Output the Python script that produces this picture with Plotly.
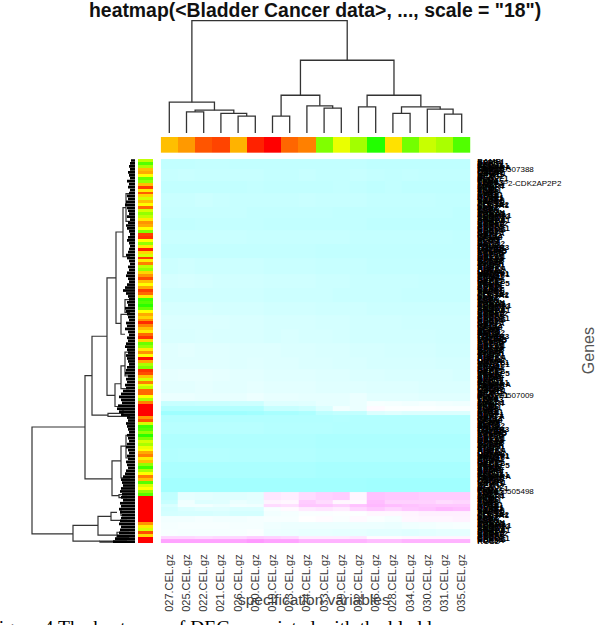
import plotly.graph_objects as go

W, H = 600, 625

samples = ["027.CEL.gz","025.CEL.gz","022.CEL.gz","021.CEL.gz","026.CEL.gz","020.CEL.gz","019.CEL.gz","023.CEL.gz","024.CEL.gz",
           "033.CEL.gz","029.CEL.gz","032.CEL.gz","036.CEL.gz","028.CEL.gz","034.CEL.gz","030.CEL.gz","031.CEL.gz","035.CEL.gz"]

# sample side colour (hue 0 = red, 60 = yellow, 120 = green)
sample_hue = [45,36,20,16,42,8,0,24,30,90,65,82,112,53,93,73,80,101]

# row band edges, top to bottom (row units)
row_edges = [0,10,22,34,48,60,72,86,100,116,130,144,158,172,186,200,212,224,236,244,250,255,259,266,278,292,306,322,336,344,349,352,356,361,367,374,381,384,388]

heat_rows = [
[-.24,-.24,-.23,-.23,-.24,-.24,-.24,-.24,-.24,-.24,-.24,-.24,-.25,-.25,-.25,-.25,-.25,-.25],
[-.22,-.21,-.22,-.22,-.22,-.22,-.23,-.23,-.22,-.23,-.23,-.22,-.23,-.24,-.23,-.24,-.24,-.24],
[-.24,-.24,-.24,-.24,-.24,-.23,-.24,-.24,-.24,-.24,-.23,-.24,-.25,-.24,-.25,-.25,-.25,-.25],
[-.21,-.21,-.20,-.21,-.22,-.22,-.22,-.22,-.21,-.22,-.22,-.22,-.23,-.23,-.23,-.23,-.24,-.24],
[-.22,-.22,-.22,-.22,-.22,-.23,-.23,-.23,-.23,-.23,-.24,-.24,-.24,-.24,-.24,-.24,-.24,-.25],
[-.24,-.24,-.23,-.23,-.23,-.23,-.24,-.24,-.24,-.24,-.24,-.24,-.25,-.25,-.25,-.25,-.25,-.25],
[-.21,-.21,-.21,-.21,-.21,-.22,-.22,-.22,-.22,-.22,-.22,-.23,-.23,-.23,-.23,-.23,-.23,-.24],
[-.23,-.23,-.23,-.23,-.23,-.23,-.23,-.23,-.23,-.24,-.24,-.24,-.24,-.24,-.24,-.24,-.24,-.24],
[-.20,-.19,-.20,-.20,-.20,-.20,-.21,-.21,-.21,-.22,-.22,-.22,-.23,-.23,-.23,-.23,-.23,-.23],
[-.17,-.16,-.17,-.18,-.18,-.18,-.19,-.19,-.19,-.20,-.20,-.21,-.21,-.21,-.21,-.22,-.22,-.22],
[-.19,-.19,-.19,-.19,-.19,-.19,-.20,-.20,-.20,-.20,-.21,-.21,-.21,-.21,-.22,-.22,-.22,-.22],
[-.16,-.16,-.16,-.17,-.17,-.17,-.18,-.18,-.18,-.19,-.19,-.19,-.20,-.20,-.20,-.20,-.20,-.20],
[-.14,-.14,-.14,-.14,-.15,-.15,-.16,-.16,-.16,-.17,-.17,-.18,-.18,-.18,-.19,-.19,-.19,-.19],
[-.15,-.15,-.14,-.15,-.15,-.15,-.16,-.15,-.16,-.16,-.17,-.18,-.18,-.18,-.18,-.18,-.19,-.19],
[-.12,-.11,-.12,-.12,-.13,-.13,-.13,-.14,-.14,-.15,-.15,-.16,-.16,-.17,-.17,-.17,-.18,-.18],
[-.12,-.12,-.12,-.12,-.13,-.12,-.13,-.13,-.14,-.14,-.15,-.15,-.16,-.16,-.16,-.16,-.17,-.17],
[-.10,-.09,-.09,-.10,-.11,-.11,-.12,-.12,-.12,-.13,-.13,-.14,-.14,-.15,-.15,-.15,-.15,-.16],
[-.11,-.11,-.10,-.11,-.11,-.10,-.11,-.11,-.11,-.12,-.12,-.12,-.13,-.13,-.13,-.14,-.14,-.14],
[-.08,-.08,-.09,-.09,-.09,-.07,-.09,-.09,-.10,-.10,-.10,-.08,-.11,-.11,-.11,-.12,-.12,-.12],
[-.22,-.22,-.21,-.21,-.20,-.20,-.13,-.13,-.12,-.10,-.10,-.08,-.03,-.04,-.05,-.04,-.05,-.06],
[-.30,-.30,-.30,-.30,-.30,-.30,-.22,-.22,-.20,-.14,-.05,-.08,.02,-.01,-.01,-.01,-.02,-.02],
[-.38,-.38,-.38,-.38,-.38,-.37,-.34,-.34,-.32,-.26,-.24,-.24,-.14,-.12,-.14,-.14,-.14,-.14],
[-.30,-.30,-.30,-.30,-.30,-.30,-.30,-.30,-.30,-.30,-.29,-.30,-.30,-.30,-.30,-.30,-.30,-.30],
[-.28,-.28,-.28,-.28,-.28,-.28,-.29,-.29,-.29,-.29,-.30,-.30,-.30,-.30,-.30,-.30,-.30,-.30],
[-.31,-.31,-.31,-.31,-.31,-.31,-.31,-.31,-.31,-.32,-.32,-.32,-.32,-.32,-.32,-.32,-.32,-.32],
[-.30,-.29,-.29,-.29,-.30,-.30,-.30,-.30,-.30,-.31,-.31,-.31,-.31,-.31,-.31,-.31,-.31,-.31],
[-.33,-.33,-.33,-.33,-.33,-.33,-.33,-.33,-.33,-.34,-.34,-.34,-.34,-.34,-.34,-.34,-.34,-.34],
[-.36,-.36,-.36,-.36,-.36,-.36,-.36,-.36,-.36,-.36,-.36,-.36,-.37,-.37,-.37,-.37,-.37,-.37],
[-.25,-.10,-.11,-.12,-.12,-.11,.10,.07,.14,.18,.20,.04,.24,.22,.22,.20,.20,.20],
[-.22,-.06,-.13,-.12,-.08,-.10,.05,.03,.20,.14,.03,.02,.26,.18,.18,.18,.14,.16],
[-.15,-.05,-.05,-.08,-.05,-.06,.14,.12,.22,.22,.18,.24,.28,.26,.24,.22,.22,.22],
[-.18,-.14,-.12,-.12,-.14,-.14,-.03,.02,.08,.10,.07,.16,.22,.17,.22,.24,.28,.26],
[-.17,-.16,-.16,-.15,-.17,-.17,-.05,-.04,-.02,-.02,-.01,-.01,.03,.03,.04,.06,.06,.06],
[-.05,-.05,-.04,-.05,-.05,-.04,-.03,-.03,.00,.01,-.02,.02,-.02,-.04,.03,.04,.04,.05],
[-.04,-.03,-.03,-.03,-.04,-.04,-.06,-.07,-.07,-.07,-.07,-.07,-.07,-.08,-.06,-.05,-.04,-.03],
[-.03,-.04,-.04,-.04,-.03,-.02,-.07,-.08,-.09,-.09,-.10,-.10,-.11,-.11,-.12,-.11,-.10,-.10],
[.16,.16,.14,.16,.16,.20,.18,.16,.08,.08,.08,.10,.02,.02,.03,.04,.04,.04],
[.36,.36,.36,.36,.36,.40,.36,.36,.30,.30,.30,.30,.26,.26,.30,.30,.30,.30],
]

# gene side colour, one value per 3 rows
gene_hue = [
 75,100,80,45,40,60,95,85,45,14,55,22,50,70,45,60,25,70,85,75,55,35,40,60,90,15,12,60,85,55,
 8,50,70,14,55,30,75,85,50,35,18,45,60,40,15,25,55,105,100,110,95,60,40,50,35,10,30,45,55,25,
 12,50,95,85,55,35,60,5,40,80,90,12,18,45,70,30,65,75,25,25,60,80,30,0,0,0,0,35,20,70,
 105,100,85,110,90,70,80,65,60,40,30,55,45,85,105,80,60,30,45,100,70,60,85,100,0,0,0,0,0,0,
 0,0,0,35,55,70,18,50,0,0]

gene_names = """BAMBI SFRP4 DKK3 CFD COL4A1 FBLN1 PDGFRA MMP2 TAGLN HSPB6 CNN1 CALD1 IGFBP1 MYH11 DES ACTG2
GSN ELOVL1 PLN FLNA TPM2 TGFB3 VIM FN1 SMAD1 MFAP4 LUM DCN ZEB1 TCF21 FOSB EGR1 JUN ATF3 NR4A1 KLF4 DUSP1 CYR61 CTGF SPARC THBS1 RHOQ1 ZFP36 COL1A2 COL3A1
ELN FBN1 PCP4 OGN ASPN TNC POSTN MXRA5 AEBP1 KCNMA1 SYNPO2 LMOD1 TNS1 ABCA8 SORBS1 ITIH5 EPHA3 CXCL12 ADH1B SRPX PTGDS C7 CHRDL1 RBPMS PDE5A RGS2 CAV1
SCN7A RET MEIS2 CCL14 WISP2 NEXN LDB3 PGM5 SLIT3 HAND2 BNC2 FHL1 ITM2A TGFBR3 CRYAB MAOB PDLIM3 MYOCD SYNM ACTA2 PRELP DPT GREM1 ANXA1 GATA3 UPK1A
KRT20 S100P TOP2A MKI67 CCNB1 CDC20 BUB1 TTK AURKA PLK1 UBE2C CDKN3 HMMR MAD2L1 NUSAP1 TPX2 RRM2 CCNA2 KIF20A NEK2 CEP55 PRC1 MELK DLGAP5 ZWINT PBK
ASPM CENPF""".split()

long_names = ["LOC100507388", "FAM72P2-CDK2AP2P2", "LOC100507009", "LOC100505498"]
long_name_rows = [10, 24, 239, 336]

# clusters of the sample tree: node 19 onward, children are leaf numbers or earlier nodes
top_left = [2,5,4,19,1,7,10,9,24,12,14,17,16,29,28,27,23]
top_right = [3,6,20,21,22,8,11,25,26,13,15,18,30,31,32,33,34]
top_height = [21.3,17,19.7,23,31,17,25,27.3,38,26.3,19.7,19,24,26.3,38,73.3,113.3]

# clusters of the gene tree: height, upper row, lower row, upper child height, lower child height
gene_h = [103,50,43,28,19,12,9,14,10,20,14,10,27,12,23,14,9,16,62,37,24,18,35,14]
gene_r1 = [270.7,218.7,179,120,73.7,49,35,157,142,227,209,195,257,252,305,290,279,339,370,361,357,377,386,354]
gene_r2 = [378.7,323,258.7,238.7,166,98.7,63,177,155,250,232,219,260,260,340,322,302,342,386,380,365,382,387,360]
gene_c1 = [50,43,28,19,12,9,5,5,5,14,10,5,12,5,14,9,5,8,37,24,18,6,8,8]
gene_c2 = [62,23,27,20,14,5,5,10,5,8,6,5,5,5,16,5,5,8,35,18,8,6,8,8]

# depth of the fine leaf comb down the gene tree, one per 3 rows
comb_depth = [
 4,5,6,5,7,6,5,8,6,7,5,6,8,7,9,10,8,7,6,8,5,7,9,8,6,5,7,8,6,5,
 6,7,9,8,6,5,7,6,8,9,7,6,8,10,12,9,7,6,8,7,10,9,8,7,6,9,8,10,7,6,
 8,7,9,10,8,7,9,8,7,6,8,9,10,7,9,8,10,9,12,14,16,14,13,17,18,16,14,8,7,9,
 8,7,6,8,7,6,8,9,7,6,8,7,9,8,7,9,10,12,14,13,12,14,15,13,14,12,15,14,16,15,
 13,14,15,16,14,15,16,18,20,22]

def px(x): return x / W
def py(y): return 1 - y / H

HX = (160.7, 470.3)
HY = (158.3, 545.5)

fig = go.Figure()

# main heat map (y holds the band edges)
fig.add_trace(go.Heatmap(z=heat_rows, x=list(range(1, 19)), y=row_edges,
                         zmin=-1, zmax=1, showscale=False, hoverinfo="skip",
                         colorscale=[[0, "#00FFFF"], [.5, "#FFFFFF"], [1, "#FF00FF"]], xaxis="x", yaxis="y"))

hue_scale = [[0, "#FF0000"], [.5, "#FFFF00"], [1, "#00FF00"]]
# sample strip
fig.add_trace(go.Heatmap(z=[sample_hue], x=list(range(1, 19)), zmin=0, zmax=120, showscale=False, hoverinfo="skip",
                         colorscale=hue_scale, xaxis="x2", yaxis="y2"))
# gene strip
hue_rows = [388 * (i + .5) / len(gene_hue) for i in range(len(gene_hue))]
fig.add_trace(go.Heatmap(z=[[v] for v in gene_hue], y=hue_rows, zmin=0, zmax=120, showscale=False, hoverinfo="skip",
                         colorscale=hue_scale, xaxis="x3", yaxis="y3"))

# sample tree
pos = {i: i for i in range(1, 19)}
hgt = {i: 0 for i in range(1, 19)}
tx, ty = [], []
for k, (a, b, h) in enumerate(zip(top_left, top_right, top_height)):
    tx += [pos[a], pos[a], pos[b], pos[b], None]
    ty += [hgt[a], h, h, hgt[b], None]
    pos[19 + k] = (pos[a] + pos[b]) / 2
    hgt[19 + k] = h
fig.add_trace(go.Scatter(x=tx, y=ty, mode="lines", line=dict(color="#333333", width=1.3), hoverinfo="skip",
                         xaxis="x4", yaxis="y4"))

# gene tree
lx, ly = [], []
for h, r1, r2, c1, c2 in zip(gene_h, gene_r1, gene_r2, gene_c1, gene_c2):
    lx += [c1, h, h, c2, None]
    ly += [r1, r1, r2, r2, None]
fig.add_trace(go.Scatter(x=lx, y=ly, mode="lines", line=dict(color="#333333", width=1.2), hoverinfo="skip",
                         xaxis="x5", yaxis="y5"))
comb_rows = [388 * (i + .5) / len(comb_depth) for i in range(len(comb_depth))]
cx, cy = [], []
for d, r in zip(comb_depth, comb_rows):
    cx += [0, d, None]
    cy += [r, r, None]
fig.add_trace(go.Scatter(x=cx, y=cy, mode="lines", line=dict(color="#000000", width=2.7), hoverinfo="skip",
                         xaxis="x5", yaxis="y5"))

# gene labels: the real heat map has far more genes than rows of pixels, so the names pile up
short_names = [s for s in gene_names if len(s) <= 6]
stacked = short_names + short_names[37:] + short_names[:37] + short_names[71:] + short_names[:71]
label_rows = [2 + 384 * i / (len(stacked) - 1) for i in range(len(stacked))]
label_text = ["<b>%s</b>" % s for s in stacked] + long_names
label_rows = label_rows + long_name_rows

hidden = dict(visible=False, fixedrange=True)
fig.update_layout(
    width=W, height=H, autosize=False, margin=dict(l=0, r=0, t=0, b=0), paper_bgcolor="white", plot_bgcolor="white",
    showlegend=False,
    xaxis=dict(domain=[px(HX[0]), px(HX[1])], range=[.5, 18.5], tickmode="array", tickvals=list(range(1, 19)), ticktext=samples,
               tickangle=-90, ticks="", showline=False, showgrid=False, zeroline=False, side="bottom", anchor="y", ticklabelstandoff=8,
               tickfont=dict(family="Liberation Sans", size=11, color="#333333")),
    yaxis=dict(domain=[py(HY[1]), py(HY[0])], range=[388, 0], side="right", anchor="x", tickmode="array", tickvals=label_rows,
               ticktext=label_text, ticks="", showline=False, showgrid=False, zeroline=False, ticklabelstandoff=6,
               tickfont=dict(family="Liberation Sans", size=8, color="#000000")),
    xaxis2=dict(domain=[px(HX[0]), px(HX[1])], range=[.5, 18.5], anchor="y2", **hidden),
    yaxis2=dict(domain=[py(152), py(136)], anchor="x2", **hidden),
    xaxis3=dict(domain=[px(138), px(153.3)], anchor="y3", **hidden),
    yaxis3=dict(domain=[py(HY[1]), py(HY[0])], range=[388, 0], anchor="x3", **hidden),
    xaxis4=dict(domain=[px(HX[0]), px(HX[1])], range=[.5, 18.5], anchor="y4", **hidden),
    yaxis4=dict(domain=[py(132), py(18)], range=[0, 114], anchor="x4", **hidden),
    xaxis5=dict(domain=[px(31), px(135)], range=[104, 0], anchor="y5", **hidden),
    yaxis5=dict(domain=[py(HY[1]), py(HY[0])], range=[388, 0], anchor="x5", **hidden),
    annotations=[
        dict(text='<b>heatmap(&lt;Bladder Cancer data&gt;, ..., scale = "18")</b>', x=px(314.5), y=py(8), xref="paper", yref="paper",
             showarrow=False, xanchor="center", yanchor="middle", font=dict(family="Liberation Sans", size=19.4, color="#111111")),
        dict(text="specification variables", x=px(313.5), y=py(602), xref="paper", yref="paper", showarrow=False,
             xanchor="center", yanchor="middle", font=dict(family="Liberation Sans", size=15.5, color="#444444")),
        dict(text="Genes", x=px(588), y=py(352), xref="paper", yref="paper", showarrow=False, textangle=-90,
             xanchor="center", yanchor="middle", font=dict(family="Liberation Sans", size=16, color="#555555")),
        dict(text="Figure 4 The heat map of DEG associated with the bladder", x=px(-14), y=py(618), xref="paper", yref="paper",
             showarrow=False, xanchor="left", yanchor="top", font=dict(family="Liberation Serif", size=19.5, color="#000000")),
    ],
)

fig.write_html("out.html", config={"displayModeBar": False},
               post_script="document.body.style.margin='0';document.body.style.overflow='hidden';")
